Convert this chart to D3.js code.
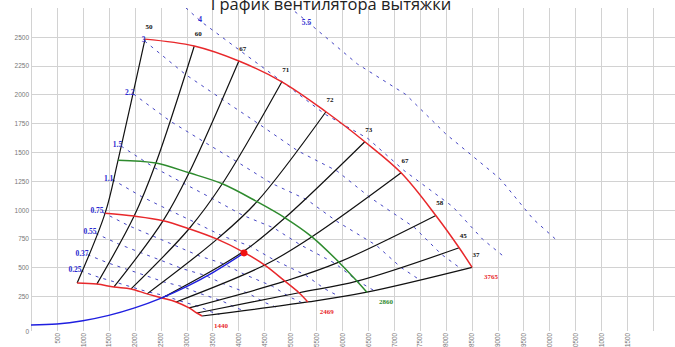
<!DOCTYPE html>
<html><head><meta charset="utf-8">
<script src="https://cdn.jsdelivr.net/npm/d3@7"></script>
<style>body{margin:0;background:#fff;} svg{display:block;}</style>
</head><body>
<svg id="c" width="675" height="347"></svg>
<script>
// ---------- data ----------
const title = "График вентилятора вытяжки";
const effLabels = ["50","60","67","71","72","73","67","58","45","37"];
const rpmLabels = ["1440","2469","2860","3765"];
// flow (m3/h) / pressure (Pa) where each efficiency line meets each speed curve
const q1440 = [890,1270,1600,1930,2240,2530,2800,3050,3200,3300];
const p1440 = [365,355,330,313,270,235,200,148,104,78];
const q2469 = [1430,1990,2550,3050,3590,4090,4510,4900,5170,5340];
const p2469 = [970,945,905,835,745,635,520,380,280,200];
const q2860 = [1680,2410,3050,3690,4360,4900,5420,5940,6290,6480];
const p2860 = [1430,1405,1320,1225,1070,930,765,545,380,285];
const q3765 = [2200,3150,4010,4840,5690,6440,7140,7810,8260,8510];
const p3765 = [2480,2420,2290,2110,1850,1590,1320,950,670,500];
// motor power lines (kW)
const powerLabels = ["0.25","0.37","0.55","0.75","1.1","1.5","2.2","3","4","5.5"];
const powerQ = [
  [957,1301,1618,1923,2248,2580,2856,3230,3458,3633],
  [1091,1483,1844,2191,2561,2940,3255,3680,3940,4140],
  [1245,1693,2104,2501,2924,3356,3715,4200,4497,4726],
  [1381,1877,2334,2773,3242,3721,4119,4658,4987,5240],
  [1569,2133,2651,3151,3683,4228,4680,5292,5666,5954],
  [1739,2365,2940,3494,4085,4689,5190,5868,6283,6602],
  [1976,2687,3341,3970,4641,5327,5897,6668,7139,7501],
  [2191,2979,3704,4402,5146,5907,6539,7394,7916,8318],
  [2412,3279,4077,4845,5664,6502,7197,8138,8713,9155],
  [2682,3647,4534,5387,6298,7230,8003,9049,9688,10181]
];
const powerP = [
  [470,415,373,332,288,255,211,162,117,92],
  [610,539,484,432,374,331,274,210,152,119],
  [795,702,630,562,488,431,357,273,198,155],
  [978,863,775,691,600,530,439,336,244,191],
  [1262,1114,1000,893,774,684,567,434,314,246],
  [1552,1369,1230,1098,952,841,697,534,387,303],
  [2004,1768,1588,1417,1229,1086,900,689,499,391],
  [2464,2174,1953,1742,1511,1335,1107,847,614,481],
  [2985,2633,2366,2111,1831,1617,1340,1026,744,582],
  [3691,3256,2925,2610,2264,2000,1657,1269,919,720]
];
// system curve and operating point
const sysQ = [0,500,1000,1500,2000,2500,3000,3500,4110];
const sysP = [0,9,37,83,148,231,333,453,625];
const opQ = 4110, opP = 625;
// axes
const xTicks = [0,500,1000,1500,2000,2500,3000,3500,4000,4500,5000,5500,6000,6500,7000,7500,8000,8500,9000,9500,10000,10500,11000,11500];
const xGrid = [0,500,1000,1500,2000,2500,3000,3500,4000,4500,5000,5500,6000,6500,7000,7500,8000,8500,9000,9500,10000,10500,11000,11500,12000,12500];
const yTicks = [0,250,500,750,1000,1250,1500,1750,2000,2250,2500];

// ---------- drawing ----------
const svg = d3.select("#c");
const x = d3.scaleLinear().domain([0,12000]).range([31,653]);
const y = d3.scaleLinear().domain([0,2750]).range([325,8]);

svg.append("defs").append("clipPath").attr("id","plot")
  .append("rect").attr("x",x(0)).attr("y",y(2750)).attr("width",675-x(0)).attr("height",y(0)-y(2750)+5);

// grid
const grid = svg.append("g").attr("stroke","#d2d2d2").attr("stroke-width",1);
grid.selectAll("line.v").data(xGrid).join("line").attr("class","v")
  .attr("x1",d=>Math.round(x(d))+0.5).attr("x2",d=>Math.round(x(d))+0.5)
  .attr("y1",y(2750)).attr("y2",331);
grid.selectAll("line.h").data(yTicks.filter(d=>d>0)).join("line").attr("class","h")
  .attr("x1",x(0)).attr("x2",675)
  .attr("y1",d=>Math.round(y(d))+0.5).attr("y2",d=>Math.round(y(d))+0.5);

// axes labels
const gy = svg.append("g").attr("transform",`translate(${x(0)-1},0)`)
  .call(d3.axisLeft(y).tickValues(yTicks).tickSize(0).tickFormat(d3.format("d")));
gy.select(".domain").remove();
gy.selectAll("text").attr("font-family","Liberation Sans").attr("font-size",6.5).attr("fill","#777")
  .attr("x",-1).attr("dy","0.35em");
gy.selectAll("text").filter(d=>d===0).attr("y",6);

const gx = svg.append("g").attr("transform","translate(0,333)")
  .call(d3.axisBottom(x).tickValues(xTicks.filter(d=>d>0)).tickSize(0).tickFormat(d3.format("d")));
gx.select(".domain").remove();
gx.selectAll("text").attr("font-family","Liberation Sans").attr("font-size",6.3).attr("fill","#777")
  .attr("x",0).attr("y",0).attr("dy","0.35em").attr("text-anchor","end").attr("transform","rotate(-90)");

const plot = svg.append("g").attr("clip-path","url(#plot)");

// power lines (dashed blue)
const lineL = d3.line().x(d=>x(d[0])).y(d=>y(d[1]));
powerQ.forEach((qs,i)=>{
  const pts = qs.map((q,j)=>[q,powerP[i][j]]);
  plot.append("path").attr("d",lineL(pts)).attr("fill","none")
    .attr("stroke","#4646c4").attr("stroke-width",1).attr("stroke-dasharray","3,5");
});

// efficiency lines (black)
const curveL = d3.line().x(d=>x(d[0])).y(d=>y(d[1])).curve(d3.curveCatmullRom);
effLabels.forEach((lab,i)=>{
  const pts = [[q1440[i],p1440[i]],[q2469[i],p2469[i]],[q2860[i],p2860[i]],[q3765[i],p3765[i]]];
  plot.append("path").attr("d",curveL(pts)).attr("fill","none").attr("stroke","#111").attr("stroke-width",1.2);
});

// speed curves
const speedQ = [q1440,q2469,q2860,q3765];
const speedP = [p1440,p2469,p2860,p3765];
const speedColor = ["#e8282b","#e8282b","#2e8b2e","#e8282b"];
speedQ.forEach((qs,k)=>{
  const pts = qs.map((q,j)=>[q,speedP[k][j]]);
  plot.append("path").attr("d",curveL(pts)).attr("fill","none").attr("stroke",speedColor[k]).attr("stroke-width",1.5);
  const last = pts[pts.length-1];
  svg.append("text").attr("x",x(last[0])+12).attr("y",y(last[1])+12)
    .attr("font-family","Liberation Serif").attr("font-weight","bold").attr("font-size",7)
    .attr("fill",speedColor[k]).text(rpmLabels[k]);
});

// system curve
const sysPts = sysQ.map((q,i)=>[q,sysP[i]]);
plot.append("path").attr("d",d3.line().x(d=>x(d[0])).y(d=>y(d[1])).curve(d3.curveMonotoneX)(sysPts))
  .attr("fill","none").attr("stroke","#1f1fe0").attr("stroke-width",1.4);
plot.append("circle").attr("cx",x(opQ)).attr("cy",y(opP)).attr("r",3.5).attr("fill","#f01010");

// efficiency labels
effLabels.forEach((lab,i)=>{
  svg.append("text").attr("x",x(q3765[i])+4).attr("y",y(p3765[i])-10).attr("text-anchor","middle")
    .attr("font-family","Liberation Serif").attr("font-weight","bold").attr("font-size",7)
    .attr("fill","#111").text(lab);
});

// power labels at first visible point
powerLabels.forEach((lab,i)=>{
  let j = 0;
  while (powerP[i][j] > 2750) j++;
  svg.append("text").attr("x",x(powerQ[i][j])+1).attr("y",y(powerP[i][j])+1).attr("text-anchor","end")
    .attr("font-family","Liberation Serif").attr("font-weight","bold").attr("font-size",7.5)
    .attr("fill","#2a2ad0").text(lab);
});

// title
svg.append("text").attr("x",331).attr("y",10).attr("text-anchor","middle")
  .attr("font-family","Open Sans").attr("font-size",16.5).attr("fill","#222").text(title);
</script>
</body></html>
